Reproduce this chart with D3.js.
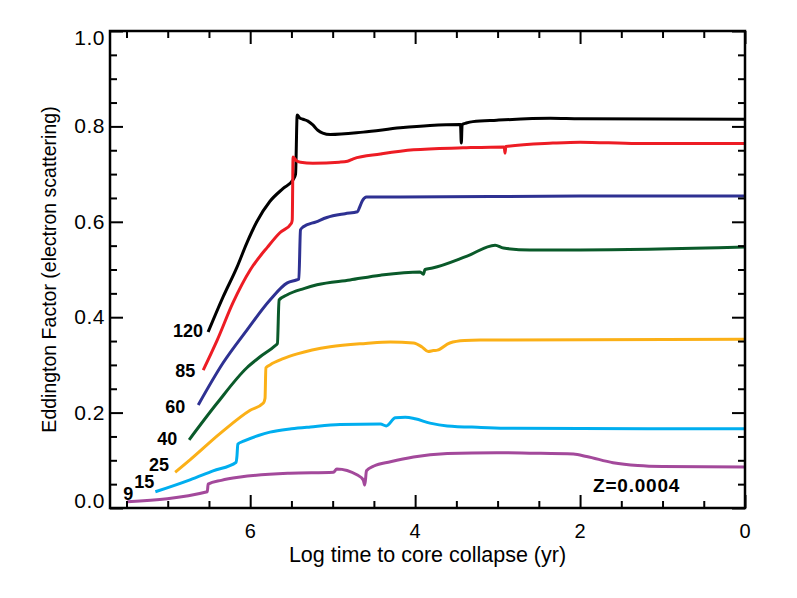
<!DOCTYPE html>
<html>
<head>
<meta charset="utf-8">
<script src="https://cdn.jsdelivr.net/npm/d3@7"></script>
<style>
  body { margin: 0; background: #fff; }
  text { font-family: "Liberation Sans", Arial, Helvetica, sans-serif; }
</style>
</head>
<body>
<div id="chart"></div>
<script>
// [log time to collapse, Eddington factor]
var m120 = [[6.51,0.369],[6.33,0.442],[6.16,0.505],[6.04,0.556],[5.92,0.600],[5.76,0.643],[5.60,0.670],[5.48,0.688],
    [5.45,0.700],[5.43,0.824],[5.40,0.818],[5.36,0.815],[5.30,0.811],[5.24,0.803],[5.18,0.792],[5.12,0.786],[5.03,0.783],
    [4.63,0.788],[4.18,0.797],[3.82,0.802],[3.45,0.804],[3.44,0.765],[3.43,0.804],[3.38,0.807],[3.30,0.810],[3.01,0.813],
    [2.36,0.817],[2.0,0.816],[0,0.815]];
var m85 = [[6.57,0.289],[6.40,0.352],[6.21,0.430],[6.00,0.499],[5.79,0.547],[5.64,0.577],[5.50,0.597],[5.49,0.604],
    [5.48,0.736],[5.44,0.728],[5.39,0.725],[5.24,0.723],[4.92,0.725],[4.82,0.727],[4.75,0.732],[4.42,0.742],[4.02,0.751],
    [3.42,0.755],[2.92,0.757],[2.91,0.744],[2.90,0.758],[2.33,0.765],[2.0,0.767],[1.31,0.764],[0,0.764]];
var m60 = [[6.63,0.216],[6.33,0.304],[6.04,0.373],[5.76,0.436],[5.55,0.472],[5.44,0.478],[5.41,0.480],[5.39,0.583],
    [5.36,0.589],[5.20,0.600],[5.07,0.609],[4.85,0.617],[4.70,0.621],[4.67,0.632],[4.64,0.644],[4.59,0.652],
    [4.18,0.652],[2.0,0.654],[0,0.654]];
var m40 = [[6.74,0.143],[6.40,0.220],[6.04,0.294],[5.88,0.317],[5.70,0.340],[5.67,0.345],[5.65,0.436],[5.55,0.447],
    [5.35,0.460],[5.19,0.468],[4.79,0.478],[4.42,0.488],[3.94,0.495],[3.90,0.490],[3.88,0.500],[3.79,0.503],
    [3.37,0.528],[3.03,0.551],[2.93,0.545],[2.61,0.541],[2.0,0.541],[0,0.547]];
var m25 = [[6.91,0.075],[6.73,0.101],[6.36,0.157],[6.00,0.205],[5.84,0.220],[5.82,0.230],[5.81,0.294],[5.76,0.300],
    [5.60,0.313],[5.43,0.323],[5.03,0.338],[4.60,0.345],[4.30,0.348],[4.02,0.346],[3.92,0.338],[3.84,0.328],
    [3.78,0.330],[3.73,0.331],[3.58,0.346],[3.40,0.351],[3.21,0.352],[0,0.354]];
var m15 = [[7.15,0.034],[6.73,0.059],[6.45,0.078],[6.17,0.096],[6.16,0.110],[6.15,0.134],[6.08,0.140],[5.90,0.152],
    [5.76,0.159],[5.50,0.166],[5.27,0.170],[4.91,0.175],[4.42,0.176],[4.35,0.172],[4.24,0.189],[4.12,0.190],
    [4.00,0.187],[3.82,0.178],[3.61,0.172],[3.20,0.169],[2.81,0.167],[0,0.166]];
var m9 = [[7.49,0.013],[6.52,0.034],[6.51,0.050],[6.35,0.058],[6.12,0.065],[5.52,0.073],[4.99,0.075],[4.95,0.082],
    [4.70,0.069],[4.63,0.059],[4.61,0.048],[4.59,0.078],[4.50,0.088],[4.30,0.097],[4.02,0.107],[3.61,0.114],
    [3.01,0.116],[2.61,0.115],[2.08,0.113],[1.92,0.108],[1.60,0.095],[1.30,0.089],[1.00,0.087],[0,0.086]];

var masses = ["120", "85", "60", "40", "25", "15", "9"];
var series = [m120, m85, m60, m40, m25, m15, m9];
var colors = ["#000000", "#ed1c24", "#2e3192", "#0a5a2a", "#fbb017", "#00aeef", "#a3499b"];

var xTicks = [6, 4, 2, 0];
var yTicks = [0.0, 0.2, 0.4, 0.6, 0.8, 1.0];
var note = "Z=0.0004";

function init() {
    var w = 797, h = 598;
    var left = 110, right = 745, top = 31, bottom = 508;

    var x = d3.scaleLinear().domain([7.7, 0]).range([left, right]);
    var y = d3.scaleLinear().domain([0, 1]).range([bottom, top]);

    var svg = d3.select("#chart").append("svg")
        .attr("width", w).attr("height", h);

    // curves (pixel x increases along each series, so monotoneX is fine)
    var line = d3.line()
        .x(function (d) { return x(d[0]); })
        .y(function (d) { return y(d[1]); })
        .curve(d3.curveMonotoneX);

    svg.selectAll("path.curve")
        .data(series)
        .enter()
        .append("path")
        .attr("class", "curve")
        .attr("d", line)
        .attr("fill", "none")
        .attr("stroke", function (d, i) { return colors[i]; })
        .attr("stroke-width", 3)
        .attr("stroke-linejoin", "round");

    // mass labels, placed next to the first point of each curve
    var lab = [[-5, 5], [-8, 7], [-13, 8], [-12, 5], [-6, -1], [-1, -4], [6, -2]];
    svg.selectAll("text.mass")
        .data(series)
        .enter()
        .append("text")
        .attr("class", "mass")
        .attr("x", function (d, i) { return x(d[0][0]) + lab[i][0]; })
        .attr("y", function (d, i) { return y(d[0][1]) + lab[i][1]; })
        .attr("text-anchor", "end")
        .attr("font-size", "18px")
        .attr("font-weight", "bold")
        .text(function (d, i) { return masses[i]; });

    // axes: IDL style, ticks pointing inwards on all four sides
    var xAxisB = d3.axisTop(x).tickValues(d3.range(0, 7.51, 0.5)).tickSize(7).tickFormat("");
    var xAxisT = d3.axisBottom(x).tickValues(d3.range(0, 7.51, 0.5)).tickSize(7).tickFormat("");
    var yAxisL = d3.axisRight(y).tickValues(d3.range(0, 1.001, 0.05)).tickSize(7).tickFormat("");
    var yAxisR = d3.axisLeft(y).tickValues(d3.range(0, 1.001, 0.05)).tickSize(7).tickFormat("");

    var gB = svg.append("g").attr("transform", "translate(0," + bottom + ")").call(xAxisB);
    var gT = svg.append("g").attr("transform", "translate(0," + top + ")").call(xAxisT);
    var gL = svg.append("g").attr("transform", "translate(" + left + ",0)").call(yAxisL);
    var gR = svg.append("g").attr("transform", "translate(" + right + ",0)").call(yAxisR);

    // major ticks longer
    function major(d) { return Math.abs(d * 5 - Math.round(d * 5)) < 1e-6; }
    gB.selectAll(".tick line").attr("y2", function (d) { return d % 2 === 0 ? -13 : -7; });
    gT.selectAll(".tick line").attr("y2", function (d) { return d % 2 === 0 ? 13 : 7; });
    gL.selectAll(".tick line").attr("x2", function (d) { return major(d) ? 13 : 7; });
    gR.selectAll(".tick line").attr("x2", function (d) { return major(d) ? -13 : -7; });

    [gB, gT, gL, gR].forEach(function (g) {
        g.select(".domain").remove();
        g.selectAll(".tick line").attr("stroke", "#000").attr("stroke-width", 2);
    });

    svg.append("rect")
        .attr("x", left).attr("y", top)
        .attr("width", right - left).attr("height", bottom - top)
        .attr("fill", "none").attr("stroke", "#000").attr("stroke-width", 2.5);

    // tick labels
    svg.selectAll("text.xt")
        .data(xTicks)
        .enter()
        .append("text")
        .attr("class", "xt")
        .attr("x", function (d) { return x(d); })
        .attr("y", 538)
        .attr("text-anchor", "middle")
        .attr("font-size", "20px")
        .text(function (d) { return d; });

    svg.selectAll("text.yt")
        .data(yTicks)
        .enter()
        .append("text")
        .attr("class", "yt")
        .attr("x", 105)
        .attr("y", function (d) {
            var shift = d === 0 ? -7 : (d === 1 ? 7 : 0);
            return y(d) + 7 + shift;
        })
        .attr("text-anchor", "end")
        .attr("font-size", "21px")
        .attr("letter-spacing", "0.5px")
        .text(function (d) { return d3.format(".1f")(d); });

    // axis titles
    svg.append("text")
        .attr("text-anchor", "middle")
        .attr("x", (left + right) / 2)
        .attr("y", 562)
        .attr("font-size", "21.5px")
        .text("Log time to core collapse (yr)");

    svg.append("text")
        .attr("text-anchor", "middle")
        .attr("transform", "translate(56," + ((top + bottom) / 2) + ") rotate(-90)")
        .attr("font-size", "19.5px")
        .text("Eddington Factor (electron scattering)");

    svg.append("text")
        .attr("x", 593)
        .attr("y", 492)
        .attr("font-size", "19px")
        .attr("font-weight", "bold")
        .attr("letter-spacing", "0.8px")
        .text(note);
}

window.onload = init;
</script>
</body>
</html>
